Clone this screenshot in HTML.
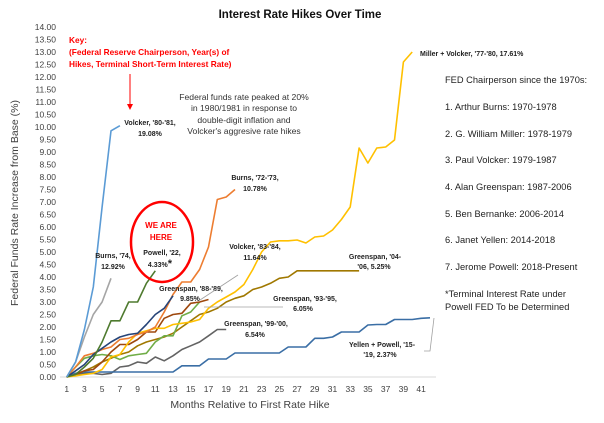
<!DOCTYPE html>
<html><head><meta charset="utf-8"><style>
body{margin:0;background:#fff;}
svg{display:block;font-family:"Liberation Sans",sans-serif;}
.t{font-size:8.5px;fill:#404040;}
.lb{font-size:7px;font-weight:bold;fill:#222;}
.side{font-size:9.3px;fill:#222;}
</style></head><body>
<svg id="c" width="604" height="423" viewBox="0 0 604 423">
<text x="300" y="18" text-anchor="middle" font-size="11.5" font-weight="bold" fill="#111">Interest Rate Hikes Over Time</text>
<g id="axes"></g>
<g id="series"></g>
<text transform="translate(18,203) rotate(-90)" text-anchor="middle" font-size="10.5" fill="#404040">Federal Funds Rate Increase from Base (%)</text>
<text x="250" y="408" text-anchor="middle" font-size="10.5" fill="#404040">Months Relative to First Rate Hike</text>
<g font-size="8.3" font-weight="bold" fill="#ff0000">
<text x="69" y="43">Key:</text>
<text x="69" y="55">(Federal Reserve Chairperson, Year(s) of</text>
<text x="69" y="67">Hikes, Terminal Short-Term Interest Rate)</text>
</g>
<line x1="130" y1="74" x2="130" y2="106" stroke="#ff0000" stroke-width="1"/>
<polygon points="127,104 133,104 130,110" fill="#ff0000"/>
<g font-size="8.6" fill="#333" text-anchor="middle">
<text x="244" y="100">Federal funds rate peaked at 20%</text>
<text x="244" y="111">in 1980/1981 in response to</text>
<text x="244" y="123">double-digit inflation and</text>
<text x="244" y="134">Volcker's aggresive rate hikes</text>
</g>
<ellipse cx="162" cy="242" rx="31" ry="40" fill="none" stroke="#ff0000" stroke-width="2.5"/>
<text x="161" y="228" text-anchor="middle" font-size="8" font-weight="bold" fill="#ff0000"><tspan x="161">WE ARE</tspan><tspan x="161" dy="12">HERE</tspan></text>
<g class="lb" text-anchor="middle">
<text x="150" y="125" class="lb"><tspan x="150">Volcker, '80-'81,</tspan><tspan x="150" dy="11">19.08%</tspan></text>
<text x="255" y="180" class="lb"><tspan x="255">Burns, '72-'73,</tspan><tspan x="255" dy="11">10.78%</tspan></text>
<text x="113" y="258" class="lb"><tspan x="113">Burns, '74,</tspan><tspan x="113" dy="11">12.92%</tspan></text>
<text x="162" y="255" class="lb"><tspan x="162">Powell, '22,</tspan><tspan x="160" dy="12">4.33%</tspan><tspan font-size="11">*</tspan></text>
<text x="255" y="249" class="lb"><tspan x="255">Volcker, '83-'84,</tspan><tspan x="255" dy="11">11.64%</tspan></text>
<text x="191" y="291" class="lb"><tspan x="191">Greenspan, '88-'89,</tspan><tspan x="190" dy="10">9.85%</tspan></text>
<text x="305" y="301" class="lb"><tspan x="305">Greenspan, '93-'95,</tspan><tspan x="303" dy="10">6.05%</tspan></text>
<text x="256" y="326" class="lb"><tspan x="256">Greenspan, '99-'00,</tspan><tspan x="255" dy="11">6.54%</tspan></text>
<text x="375" y="259" class="lb"><tspan x="375">Greenspan, '04-</tspan><tspan x="374" dy="10">'06, 5.25%</tspan></text>
<text x="382" y="347" class="lb"><tspan x="382">Yellen + Powell, '15-</tspan><tspan x="380" dy="10">'19, 2.37%</tspan></text>
</g>
<text x="420" y="56" class="lb">Miller + Volcker, '77-'80, 17.61%</text>
<g class="side">
<text x="445" y="83">FED Chairperson since the 1970s:</text>
<text x="445" y="110">1. Arthur Burns: 1970-1978</text>
<text x="445" y="137">2. G. William Miller: 1978-1979</text>
<text x="445" y="163">3. Paul Volcker: 1979-1987</text>
<text x="445" y="190">4. Alan Greenspan: 1987-2006</text>
<text x="445" y="217">5. Ben Bernanke: 2006-2014</text>
<text x="445" y="243">6. Janet Yellen: 2014-2018</text>
<text x="445" y="270">7. Jerome Powell: 2018-Present</text>
<text x="445" y="297">*Terminal Interest Rate under</text>
<text x="445" y="310">Powell FED To be Determined</text>
</g>
<g stroke="#a0a0a0" stroke-width="0.8" fill="none">
<polyline points="238,275 200,300"/>
<polyline points="204,307 283,307"/>
<polyline points="424,351 430,351 434,318"/>
</g>
</svg>
<script>
const monthTicks=[1,3,5,7,9,11,13,15,17,19,21,23,25,27,29,31,33,35,37,39,41];
const yTicks=[0,0.5,1,1.5,2,2.5,3,3.5,4,4.5,5,5.5,6,6.5,7,7.5,8,8.5,9,9.5,10,10.5,11,11.5,12,12.5,13,13.5,14];
const volcker80=[0,0.6,1.9,3.6,6.8,9.85,10.05];
const millerVolcker=[0,0.05,0.1,0.15,0.3,0.8,0.9,1.4,1.75,1.85,1.95,1.95,2.1,2.15,2.2,2.3,2.75,3.0,3.2,3.4,3.7,4.3,5.0,5.4,5.45,5.45,5.48,5.36,5.6,5.64,5.88,6.3,6.8,9.16,8.56,9.16,9.2,9.48,12.6,13.0];
const burns72=[0,0.4,0.85,0.95,1.1,1.2,1.5,1.55,1.7,1.8,2.0,2.6,3.3,3.8,3.8,4.3,5.2,7.1,7.2,7.5];
const burns74=[0,0.6,1.6,2.5,3.0,3.95];
const powell22=[0,0.1,0.4,0.75,1.4,2.25,2.25,3.0,3.0,3.75,4.25];
const volcker83=[0,0.25,0.5,0.9,1.15,1.4,1.6,1.7,1.75,2.1,2.5,2.75,3.25];
const greenspan88=[0,0.1,0.25,0.3,0.6,1.0,1.3,1.3,1.5,1.8,1.8,2.35,2.5,2.55,2.95,3.0,3.1];
const greenspan93=[0,0.4,0.75,0.85,0.9,0.85,0.7,0.85,0.9,0.95,1.4,1.65,1.65,2.45,2.6,3.0];
const greenspan99=[0,0.1,0.15,0.15,0.1,0.15,0.4,0.45,0.6,0.55,0.8,0.65,0.85,1.1,1.25,1.4,1.65,1.9,1.9];
const greenspan04=[0,0.1,0.25,0.4,0.6,0.75,0.9,1.0,1.25,1.4,1.5,1.6,1.75,2.0,2.25,2.5,2.6,2.75,3.0,3.15,3.25,3.5,3.6,3.75,3.95,4.0,4.25,4.25,4.25,4.25,4.25,4.25,4.25,4.25];
const yellenPowell=[0,0.15,0.2,0.2,0.2,0.2,0.2,0.2,0.2,0.2,0.2,0.2,0.2,0.45,0.45,0.45,0.72,0.72,0.72,0.96,0.96,0.96,0.96,0.96,0.96,1.2,1.2,1.2,1.55,1.55,1.6,1.8,1.8,1.8,2.08,2.1,2.1,2.3,2.3,2.3,2.35,2.37];

const NS='http://www.w3.org/2000/svg';
const xs=m=>66.7+8.86*(m-1);
const ys=v=>377-25*v;
const axes=document.getElementById('axes');
const ser=document.getElementById('series');
const al=document.createElementNS(NS,'line');
al.setAttribute('x1',60);al.setAttribute('x2',436);al.setAttribute('y1',377);al.setAttribute('y2',377);
al.setAttribute('stroke','#d9d9d9');


axes.appendChild(al);
yTicks.forEach(v=>{const t=document.createElementNS(NS,'text');
t.setAttribute('x',56);t.setAttribute('y',ys(v)+3);t.setAttribute('text-anchor','end');t.setAttribute('class','t');
t.textContent=v.toFixed(2);


axes.appendChild(t);});
monthTicks.forEach(m=>{const t=document.createElementNS(NS,'text');
t.setAttribute('x',xs(m));t.setAttribute('y',392);t.setAttribute('text-anchor','middle');t.setAttribute('class','t');
t.textContent=m;


axes.appendChild(t);});
function line(arr,color,name){const p=document.createElementNS(NS,'polyline');
p.setAttribute('points',arr.map((v,i)=>xs(i+1).toFixed(1)+','+ys(v).toFixed(1)).join(' '));
p.setAttribute('fill','none');p.setAttribute('stroke',color);p.setAttribute('stroke-width','1.6');p.setAttribute('stroke-linejoin','round');


ser.appendChild(p);}
line(greenspan99,'#636363','series-greenspan-99');
line(yellenPowell,'#3a6ea5','series-yellen-powell');
line(greenspan04,'#a07800','series-greenspan-04');
line(greenspan93,'#70ad47','series-greenspan-93');
line(greenspan88,'#9e480e','series-greenspan-88');
line(millerVolcker,'#ffc000','series-miller-volcker');
line(burns72,'#ed7d31','series-burns-72');
line(volcker83,'#264478','series-volcker-83');
line(powell22,'#4e7a2e','series-powell-22');
line(burns74,'#a5a5a5','series-burns-74');
line(volcker80,'#5b9bd5','series-volcker-80');
</script>
</body></html>
